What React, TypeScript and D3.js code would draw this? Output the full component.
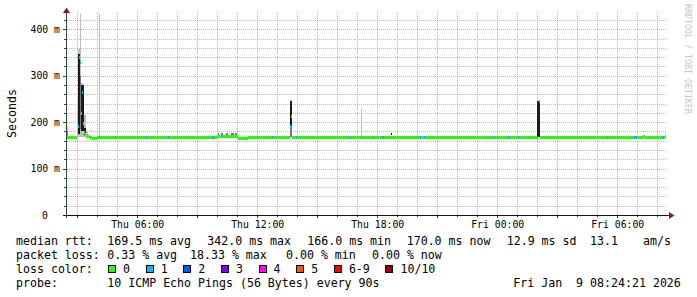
import React from "react";
import * as d3 from "d3";

const W = 697;
const H = 297;

// time in minutes after Thu 00:00 (graph covers 30 hours)
const START = 147.9;
const SPAN = 1800;

const xTickTimes = [360, 720, 1080, 1440, 1800];
const xTickLabels = ["Thu 06:00", "Thu 12:00", "Thu 18:00", "Fri 00:00", "Fri 06:00"];
const yTickValues = [0, 100, 200, 300, 400];
const yTickLabels = ["0", "100 m", "200 m", "300 m", "400 m"];

// median rtt runs: [from, to, ms]  (loss 0)
const medianRuns: [number, number, number][] = [
  [148, 178, 168],
  [205, 214, 171],
  [214, 223, 168],
  [223, 232, 165],
  [232, 238, 166],
  [238, 598, 168],
  [598, 661, 170],
  [661, 691, 166],
  [691, 814, 168],
  [823, 1557, 168],
  [1566, 1876, 168],
  [1876, 1882, 170],
  [1882, 1942, 168],
  [1942, 1945, 171],
];

// samples with 1/10 packet loss: [time, duration]
const lossOneEvents: [number, number][] = [
  [244, 4], [292, 3], [385, 3], [451, 3], [583, 6], [613, 3], [763, 3],
  [835, 3], [997, 3], [1030, 3], [1066, 3], [1093, 6], [1207, 3], [1219, 3],
  [1429, 3], [1471, 3], [1501, 3], [1768, 3], [1849, 9], [1933, 6],
];

// median samples inside the spikes: [time, ms, lost pings]
const spikeSamples: [number, number, number][] = [
  [181, 191, 1], [184, 341, 1], [187, 330, 1], [190, 219, 0], [193, 265, 1],
  [196, 199, 0], [199, 179, 0], [202, 175, 0],
  [814, 168, 1], [817, 191, 1], [820, 214, 0],
  [1557, 168, 1], [1563, 245, 1],
];

// smoke bands: [from, to, low ms, high ms]
const smokeLight: [number, number, number, number][] = [
  [148, 151, 168, 191],
  [178, 181, 168, 242],
  [181, 187, 168, 357],
  [186, 189, 168, 433],
  [189, 196, 168, 285],
  [196, 199, 168, 259],
  [199, 205, 168, 216],
  [205, 211, 168, 182],
  [244, 247, 168, 433],
  [817, 823, 168, 248],
  [1030, 1033, 168, 229],
];
const smokeMid: [number, number, number, number][] = [
  [148, 150, 168, 182],
  [187, 190, 185, 300],
  [600, 603, 171, 177],
  [610, 616, 172, 176],
  [625, 631, 171, 177],
  [640, 649, 172, 177],
  [652, 658, 172, 176],
  [817, 823, 168, 191],
  [1557, 1559, 168, 246],
];
const smokeDark: [number, number, number, number][] = [
  [181, 187, 175, 346],
  [190, 199, 180, 281],
  [199, 205, 172, 188],
  [817, 823, 191, 245],
  [1559, 1566, 168, 246],
  [1120, 1123, 172, 176],
];

const lossColors = ["#26ff00", "#00b8ff", "#0059ff", "#7e00ff", "#ff00ff", "#ff5500", "#ff0000", "#a10000"];
const lossLabels = ["0", "1", "2", "3", "4", "5", "6-9", "10/10"];

const rowMedian: [number, string][] = [
  [16, "median rtt:"], [107.3, "169.5 ms avg"], [207.3, "342.0 ms max"], [307.3, "166.0 ms min"],
  [406.7, "170.0 ms now"], [506.7, "12.9 ms sd"], [590, "13.1"], [643, "am/s"],
];
const rowLoss: [number, string][] = [
  [16, "packet loss:"], [107.3, "0.33 % avg"], [190, "18.33 % max"], [286, "0.00 % min"], [372, "0.00 % now"],
];
const rowProbe: [number, string][] = [
  [16, "probe:"], [107.3, "10 ICMP Echo Pings (56 Bytes) every 90s"], [513.3, "Fri Jan  9 08:24:21 2026"],
];

const MONO = "'DejaVu Sans Mono', monospace";
const FS = 11.6;
const CW = 6.95;

export default function App() {
  const x = d3.scaleLinear().domain([START, START + SPAN]).range([67, 667]);
  const y = d3.scaleLinear().domain([0, 400]).range([215, 29.3]);
  const px = (t: number) => Math.floor(x(t)) + 0.5;
  const py = (v: number) => Math.round(y(v)) + 0.5;
  const top = 12;

  const minorY = d3.range(20, 421, 20).filter((v) => v % 100 !== 0);
  const majorY = [100, 200, 300, 400];
  const hours = d3.range(180, START + SPAN, 60);
  const minorX = hours.filter((t) => t % 180 !== 0);
  const majorX = hours.filter((t) => t % 180 === 0);

  const medAt = (t: number) => {
    const r = medianRuns.find((d) => t >= d[0] && t < d[1]);
    return r ? r[2] : 168;
  };

  const bar = (t0: number, t1: number, ms: number, color: string, key: string) => {
    const yc = y(ms);
    return <rect key={key} x={x(t0)} y={yc - 1} width={Math.max(1, x(t1) - x(t0))} height={3} fill={color} />;
  };

  const smoke = (arr: [number, number, number, number][], color: string, p: string) =>
    arr.map((d, i) => (
      <rect key={p + i} x={x(d[0])} y={y(d[3])} width={Math.max(1, x(d[1]) - x(d[0]))}
        height={y(d[2]) - y(d[3])} fill={color} />
    ));

  // legend boxes
  const boxes: { bx: number; label: string; color: string }[] = [];
  let bx = 108;
  lossLabels.forEach((l, i) => {
    boxes.push({ bx, label: l, color: lossColors[i] });
    bx = bx + 15 + l.length * CW + 15.7;
  });

  return (
    <svg width={W} height={H} style={{ position: "absolute", left: 0, top: 0, background: "#fff" }}
      fontFamily={MONO}>
      <rect x={0} y={0} width={W} height={H} fill="#fff" />
      {/* grid */}
      <g strokeDasharray="1,1" strokeWidth={1} shapeRendering="crispEdges">
        {minorY.map((v) => (
          <line key={"my" + v} x1={67} x2={667} y1={py(v)} y2={py(v)} stroke="rgba(143,143,143,0.6)" />
        ))}
        {minorX.map((t) => (
          <line key={"mx" + t} x1={px(t)} x2={px(t)} y1={top} y2={215} stroke="rgba(143,143,143,0.6)" />
        ))}
        {majorY.map((v) => (
          <line key={"My" + v} x1={67} x2={667} y1={py(v)} y2={py(v)} stroke="rgba(222,80,80,0.55)" />
        ))}
        {majorX.map((t) => (
          <line key={"Mx" + t} x1={px(t)} x2={px(t)} y1={top} y2={215} stroke="rgba(222,80,80,0.55)" />
        ))}
      </g>
      {/* smoke */}
      <g shapeRendering="crispEdges">
        {smoke(smokeLight, "#bdbdbd", "sl")}
        {smoke(smokeMid, "#7a7a7a", "sm")}
        {smoke(smokeDark, "#1c1c1c", "sd")}
      </g>
      {/* median */}
      <g shapeRendering="crispEdges">
        {medianRuns.map((d, i) => bar(d[0], d[1], d[2], lossColors[0], "mr" + i))}
        {lossOneEvents.map((d, i) => bar(d[0], d[0] + d[1], medAt(d[0]), lossColors[1], "lo" + i))}
        {spikeSamples.map((d, i) => bar(d[0], d[0] + 3, d[1], lossColors[d[2]], "sp" + i))}
      </g>
      {/* axes */}
      <g shapeRendering="crispEdges">
        {d3.range(0, 421, 20).map((v) => (
          <line key={"ty" + v} x1={v % 100 === 0 ? 63 : 64} x2={67} y1={py(v)} y2={py(v)} stroke="#2c4d43" />
        ))}
        {hours.map((t) => (
          <line key={"tx" + t} x1={px(t)} x2={px(t)} y1={215} y2={t % 180 === 0 ? 218 : 217} stroke="#2c4d43" />
        ))}
        <line x1={66.5} x2={66.5} y1={11} y2={218} stroke="#2c4d43" />
        <line x1={63} x2={670} y1={215.5} y2={215.5} stroke="#111" />
      </g>
      <polygon points="66.5,7.5 63,13 70,13" fill="#7f1f1f" />
      <polygon points="674.5,215.5 669,212 669,219" fill="#7f1f1f" />
      {/* tick labels */}
      <g fontSize={9.8} fill="#000">
        {yTickValues.map((v, i) => (
          <text key={"yl" + v} x={v === 0 ? 48 : 60} y={y(v) + 3.5} textAnchor="end">{yTickLabels[i]}</text>
        ))}
        {xTickTimes.map((t, i) => (
          <text key={"xl" + t} x={x(t)} y={228} textAnchor="middle">{xTickLabels[i]}</text>
        ))}
      </g>
      <text transform="translate(15.5,113.5) rotate(-90)" textAnchor="middle" fontSize={FS} fill="#000">Seconds</text>
      <text transform="translate(684.5,4) rotate(90)" fontSize={8.3} fill="#c4c4c4">RRDTOOL / TOBI OETIKER</text>
      {/* legend */}
      <g fontSize={FS} fill="#000" style={{ whiteSpace: "pre" }}>
        {rowMedian.map((d, i) => <text key={"r1" + i} x={d[0]} y={245}>{d[1]}</text>)}
        {rowLoss.map((d, i) => <text key={"r2" + i} x={d[0]} y={259}>{d[1]}</text>)}
        <text x={16} y={273}>loss color:</text>
        {boxes.map((b, i) => (
          <g key={"b" + i}>
            <rect x={b.bx + 0.5} y={265.5} width={7} height={7} fill={b.color} stroke="#000" shapeRendering="crispEdges" />
            <text x={b.bx + 15} y={273}>{b.label}</text>
          </g>
        ))}
        {rowProbe.map((d, i) => <text key={"r4" + i} x={d[0]} y={287} xmlSpace="preserve">{d[1]}</text>)}
      </g>
    </svg>
  );
}
